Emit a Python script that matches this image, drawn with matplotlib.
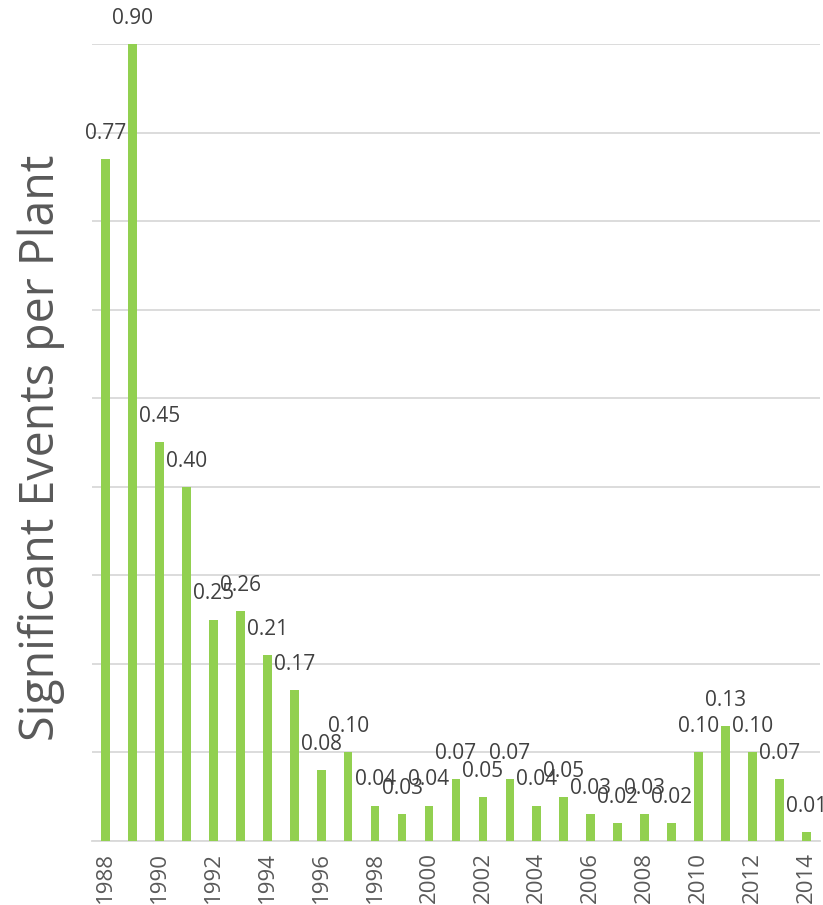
import numpy as np
import matplotlib.pyplot as plt

plt.rcParams['font.family'] = ['Open Sans', 'DejaVu Sans']

years = list(range(1988, 2015))
events = [0.77, 0.90, 0.45, 0.40, 0.25, 0.26, 0.21, 0.17, 0.08, 0.10,
          0.04, 0.03, 0.04, 0.07, 0.05, 0.07, 0.04, 0.05, 0.03, 0.02,
          0.03, 0.02, 0.10, 0.13, 0.10, 0.07, 0.01]

fig = plt.figure(figsize=(8.23, 9.05), dpi=100)
ax = fig.add_axes([0.112, 0.0707, 0.884, 0.8807])

x = np.arange(len(years))
ax.bar(x, events, width=0.32, color='#92d050', zorder=3)

# value labels above each bar
for xi, v in zip(x, events):
    ax.annotate(f'{v:.2f}', (xi, v), xytext=(0, 18.5), textcoords='offset points',
                ha='center', va='center', fontsize=15, color='#404040',
                annotation_clip=False, zorder=4)

ax.set_xlim(-0.5, len(years) - 0.5)
ax.set_ylim(0, 0.9)
ax.set_yticks(np.arange(0, 0.91, 0.1))
ax.yaxis.grid(True, color='#d9d9d9', linewidth=1.3, zorder=0)
ax.tick_params(axis='y', left=False, labelleft=False)

ax.set_xticks(x[::2])
ax.set_xticklabels([str(y) for y in years[::2]], rotation=90, fontsize=16, color='#595959')
ax.tick_params(axis='x', length=0, pad=8)

for s in ['top', 'right', 'left']:
    ax.spines[s].set_visible(False)
ax.spines['bottom'].set_color('#d9d9d9')
ax.spines['bottom'].set_linewidth(1.3)

fig.text(0.050, 0.505, 'Significant Events per Plant', rotation=90, ha='center', va='center',
         fontsize=33.5, color='#595959')

fig.savefig('out.png', dpi=100)
